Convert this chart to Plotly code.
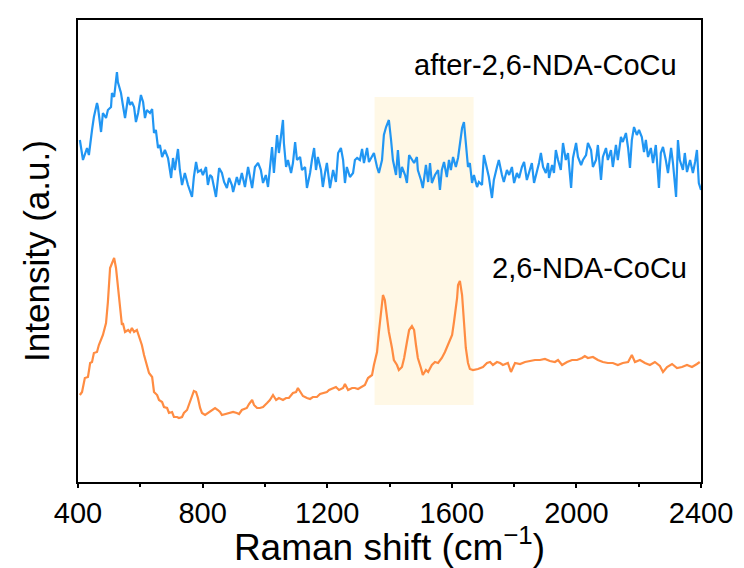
import plotly.graph_objects as go

# ---- data (Raman shift in cm^-1, intensity in a.u.) ----
after_shift = [406,416,429,435,445,451,461,464,474,480,490,496,506,509,516,525,528,538,544,551,
               561,567,573,580,586,593,602,609,615,621,631,638,644,650,657,663,670,679,689,699,
               705,711,721,727,734,743,753,766,772,779,785,795,801,811,817,824,830,843,853,862,
               869,878,885,894,898,910,917,926,936,946,959,968,978,987,994,1003,1010,1016,1023,1029,
               1039,1045,1052,1058,1061,1068,1074,1084,1090,1097,1103,1113,1119,1129,1135,1145,1151,1158,1164,1170,
               1180,1186,1193,1199,1209,1219,1228,1235,1244,1251,1257,1263,1273,1283,1289,1296,1305,1312,1318,1328,
               1334,1344,1350,1360,1366,1376,1382,1389,1398,1405,1411,1421,1427,1434,1440,1450,1456,1463,1472,1479,
               1488,1491,1501,1507,1517,1524,1530,1536,1546,1556,1562,1568,1575,1584,1591,1597,1604,1613,1620,1626,
               1633,1639,1642,1649,1652,1658,1665,1671,1681,1687,1697,1703,1713,1719,1729,1735,1745,1751,1761,1767,
               1777,1784,1793,1800,1809,1816,1825,1832,1841,1848,1857,1864,1873,1880,1886,1893,1902,1909,1912,1922,
               1928,1934,1941,1950,1957,1966,1973,1983,1989,1999,2005,2015,2021,2031,2037,2047,2053,2063,2069,2079,
               2085,2095,2101,2111,2117,2127,2133,2143,2149,2159,2166,2172,2178,2185,2194,2201,2210,2217,2223,2230,
               2239,2246,2255,2265,2271,2278,2287,2294,2304,2310,2320,2326,2332,2342,2348,2355,2365,2374,2381,2387,
               2393,2400]
after_int = [342,322,334,327,352,365,379,375,350,369,364,372,375,389,385,410,400,389,377,364,
             385,377,380,375,360,369,387,380,364,372,369,373,349,352,334,337,325,332,324,304,
             324,312,333,312,297,309,297,285,305,320,310,312,307,315,297,307,305,285,314,309,
             300,294,304,297,290,305,297,309,295,315,294,315,319,312,299,307,295,312,335,309,
             347,329,347,362,339,315,322,309,319,340,322,325,312,315,294,309,322,334,312,325,
             312,295,309,319,294,312,300,329,334,322,299,315,305,309,322,324,322,333,319,334,
             320,325,329,315,309,322,347,355,362,342,322,307,332,304,315,307,299,327,322,319,
             325,312,302,294,317,300,319,299,307,312,292,312,320,305,322,312,325,315,324,339,
             354,360,349,325,315,319,299,307,295,300,297,327,314,305,284,302,315,322,307,300,
             312,307,315,299,309,304,315,320,302,309,319,299,309,319,329,315,309,319,304,317,
             309,332,322,312,339,322,329,294,324,339,325,317,322,327,339,332,315,322,337,302,
             325,334,322,332,315,337,322,345,340,349,334,314,342,355,347,352,345,330,342,325,
             334,319,337,294,329,335,322,309,334,319,285,342,322,312,329,310,322,309,320,332,
             299,292]

before_shift = [406,413,422,432,439,445,451,461,467,477,480,490,496,503,509,516,522,528,535,541,
                544,551,561,567,573,580,589,596,605,612,621,628,638,644,654,660,670,676,686,692,
                702,708,718,724,734,740,750,756,766,772,779,785,792,798,808,817,824,830,840,849,
                856,862,872,882,888,898,910,917,926,942,949,959,965,975,984,994,1007,1016,1026,1036,
                1045,1058,1068,1077,1090,1100,1106,1116,1122,1135,1145,1154,1167,1177,1186,1199,1206,1219,1228,1238,
                1251,1257,1267,1280,1289,1299,1312,1321,1331,1344,1350,1360,1366,1373,1379,1385,1392,1398,1408,1414,
                1424,1430,1440,1447,1456,1463,1472,1479,1485,1491,1501,1507,1517,1524,1536,1546,1556,1568,1578,1588,
                1601,1607,1617,1620,1626,1633,1639,1645,1652,1658,1668,1684,1700,1713,1723,1732,1745,1755,1764,1780,
                1790,1803,1819,1835,1851,1867,1883,1899,1915,1931,1941,1954,1970,1986,2002,2018,2027,2037,2053,2069,
                2085,2101,2117,2133,2149,2166,2178,2188,2204,2220,2236,2252,2268,2278,2291,2307,2323,2339,2355,2371,
                2387,2396]
before_int = [87,90,104,105,119,120,129,130,137,145,147,159,180,214,219,224,214,194,172,157,
              159,150,152,150,154,150,152,145,137,127,117,109,105,90,87,82,80,75,74,69,
              70,65,65,64,65,69,72,77,87,91,90,84,74,69,67,69,70,72,74,72,
              70,67,68,69,69,70,69,68,72,74,78,82,77,74,74,75,79,82,87,82,
              84,82,84,84,89,90,94,88,86,84,83,85,85,88,89,90,92,94,95,92,
              94,98,92,94,94,93,95,97,104,107,117,130,150,170,187,182,165,150,134,122,
              117,112,115,124,140,152,156,152,137,124,114,107,112,110,117,120,119,124,130,137,
              147,160,184,197,201,187,160,134,119,113,112,113,115,119,120,117,120,119,117,119,
              110,119,118,120,121,122,122,123,121,120,122,117,120,122,122,124,126,124,125,122,
              120,119,119,117,119,120,127,120,122,119,117,120,116,110,115,118,114,115,117,115,
              118,120]

labels = ["after-2,6-NDA-CoCu", "2,6-NDA-CoCu"]
highlight_range = [1352, 1670]
highlight_int = [77, 385]

FONT = "Liberation Sans, Arial, sans-serif"

fig = go.Figure()
fig.add_shape(type="rect", xref="x", yref="y",
              x0=highlight_range[0], x1=highlight_range[1],
              y0=highlight_int[0], y1=highlight_int[1],
              fillcolor="rgb(255,248,230)", line_width=0, layer="below")
fig.add_trace(go.Scatter(x=before_shift, y=before_int, mode="lines",
                         line=dict(color="rgb(255,140,66)", width=2.2), showlegend=False))
fig.add_trace(go.Scatter(x=after_shift, y=after_int, mode="lines",
                         line=dict(color="rgb(33,150,243)", width=2.2), showlegend=False))

fig.add_annotation(x=2330, y=417, xref="x", yref="y", text=labels[0], showarrow=False,
                   xanchor="right", yanchor="middle", font=dict(family=FONT, size=29, color="black"))
fig.add_annotation(x=2360, y=214, xref="x", yref="y", text=labels[1], showarrow=False,
                   xanchor="right", yanchor="middle", font=dict(family=FONT, size=29, color="black"))

fig.update_layout(
    width=744, height=568,
    margin=dict(l=78, r=43, t=20, b=86),
    paper_bgcolor="white", plot_bgcolor="white",
    font=dict(family=FONT, color="black"),
    xaxis=dict(range=[400, 2400], tickvals=[400, 800, 1200, 1600, 2000, 2400],
               ticks="outside", ticklen=4, tickwidth=1.5, tickcolor="black",
               minor=dict(tickvals=[600, 1000, 1400, 1800, 2200], ticks="outside", ticklen=3,
                          tickwidth=1.5, tickcolor="black"),
               showline=True, linecolor="black", linewidth=2, mirror=True,
               showgrid=False, zeroline=False,
               tickfont=dict(family=FONT, size=29, color="black"),
               title=dict(text="Raman shift (cm<sup>\u22121</sup>)", standoff=2,
                          font=dict(family=FONT, size=37, color="black"))),
    yaxis=dict(range=[0, 462], showticklabels=False, ticks="",
               showline=True, linecolor="black", linewidth=2, mirror=True,
               showgrid=False, zeroline=False,
               title=dict(text="Intensity (a.u.)", standoff=16,
                          font=dict(family=FONT, size=35, color="black"))),
)

fig.write_html("out.html")
